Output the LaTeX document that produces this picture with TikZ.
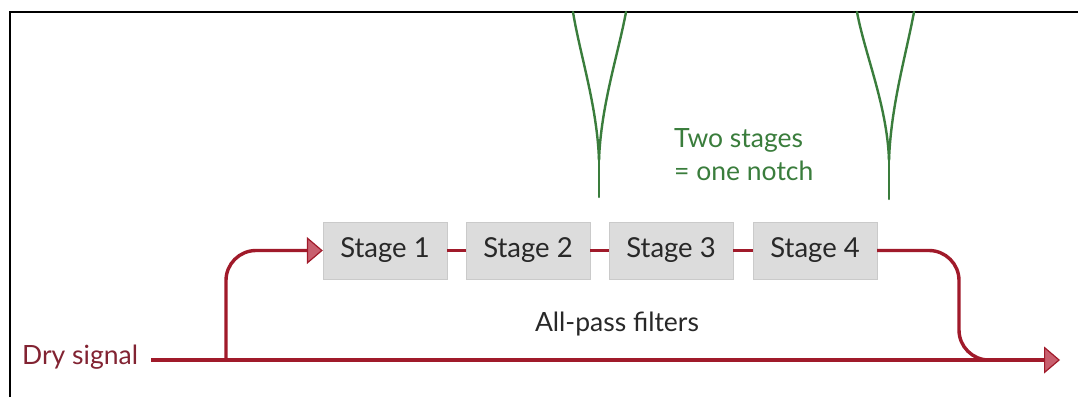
\documentclass[tikz,border=0pt]{standalone}
\usepackage{fontspec}
\setmainfont{Lato}
\usetikzlibrary{arrows.meta}
\definecolor{sigred}{RGB}{160,26,42}
\definecolor{tippink}{RGB}{200,95,110}
\definecolor{dryred}{RGB}{130,35,50}
\definecolor{notchgreen}{RGB}{58,125,60}
\definecolor{boxgray}{RGB}{220,220,220}
\definecolor{labelgray}{RGB}{40,40,40}
\begin{document}
\begin{tikzpicture}[x=1pt,y=-1pt,
  stagebox/.style={fill=boxgray, draw=boxgray!92!black, line width=0.4pt,
    minimum width=124pt, minimum height=57pt, inner sep=0pt,
    text=labelgray, font=\fontsize{27.5}{32}\selectfont},
  sig/.style={draw=sigred, line width=3.4pt},
  sigtip/.style={-{Triangle[length=16pt,width=27pt,fill=tippink,line width=1.2pt]}},
  notch/.style={draw=notchgreen, line width=2.4pt, line cap=round},
  caption/.style={font=\fontsize{26.5}{33}\selectfont, inner sep=0pt}]
  \useasboundingbox (0,0) rectangle (1078,397);
  \fill[white] (0,0) rectangle (1078,397);
  % cropped frame edges
  \draw[line width=2pt] (10,397) -- (10,12) -- (1078,12);

  % all-pass stages
  \node[stagebox] (s1) at (385,250.5) {Stage 1};
  \node[stagebox] (s2) at (528,250.5) {Stage 2};
  \node[stagebox] (s3) at (671,250.5) {Stage 3};
  \node[stagebox] (s4) at (815,250.5) {Stage 4};

  \draw[sig] (s1) -- (s2);
  \draw[sig] (s2) -- (s3);
  \draw[sig] (s3) -- (s4);

  % dry path and taps
  \node[caption, text=dryred, anchor=base west] (dry) at (22,364) {Dry signal};
  \coordinate (in) at (151,360);
  \coordinate (tap) at (226,360);
  \coordinate (turn) at (959,250.5);
  \coordinate (drop) at (959,360);
  \coordinate (merge) at (1010,360);
  \coordinate (out) at (1060,360);

  \draw[sig, sigtip] (in) -- (out);
  \draw[sig, sigtip, rounded corners=30pt] (tap) |- (s1.west);
  \draw[sig, rounded corners=30pt] (s4.east) -- (turn) -- (drop) -- (merge);

  \node[caption, text=labelgray, anchor=base] (ap) at (617,331) {All-pass filters};

  % notch responses
  \coordinate (n1) at (599,160);
  \coordinate (n1b) at (599,197);
  \coordinate (n2) at (889,160);
  \coordinate (n2b) at (889,199);
  \draw[notch] (573,12) .. controls (580,55) and (597,105) .. (n1);
  \draw[notch] (626,12) .. controls (618,55) and (601,105) .. (n1);
  \draw[notch] (n1) -- (n1b);
  \draw[notch] (857,12) .. controls (865,55) and (887,105) .. (n2);
  \draw[notch] (914,12) .. controls (906,55) and (891,105) .. (n2);
  \draw[notch] (n2) -- (n2b);

  \node[caption, text=notchgreen, anchor=base west] (two) at (674,147) {Two stages};
  \node[caption, text=notchgreen, anchor=base west] (one) at (674,180) {= one notch};
\end{tikzpicture}
\end{document}
